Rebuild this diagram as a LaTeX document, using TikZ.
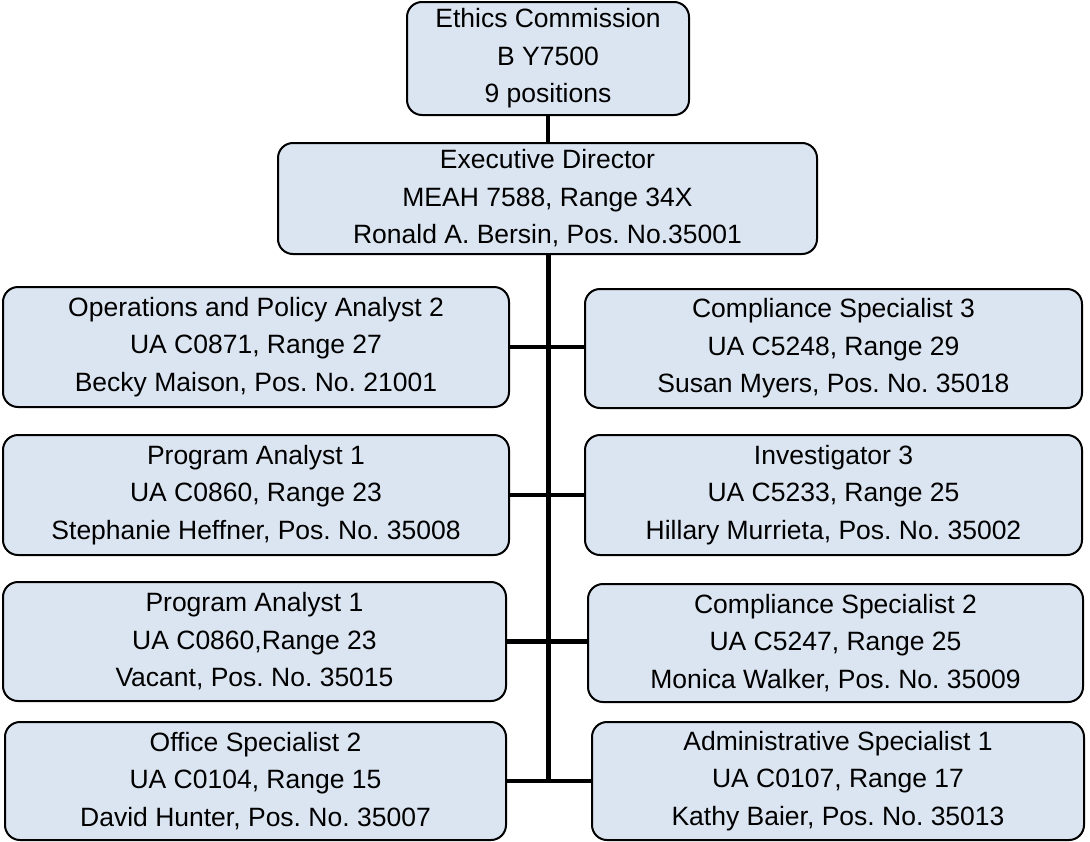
\documentclass[tikz,border=0pt]{standalone}
\usepackage{fontspec}
\setmainfont{Liberation Sans}
\definecolor{boxfill}{RGB}{219,229,241}
\frenchspacing
\begin{document}
\begin{tikzpicture}[x=1pt,y=-1pt,
  orgbox/.style={draw=black, line width=2pt, fill=boxfill, rounded corners=15pt,
    inner sep=0pt, align=center, font=\fontsize{26.5}{37.5}\selectfont},
  conn/.style={draw=black, line width=4.5pt},
  spineline/.style={draw=black, line width=5pt}]
\useasboundingbox (0,0) rectangle (1090,841);
\node[orgbox, minimum width=282pt, minimum height=113pt] (ec) at (548,58.5)
  {Ethics Commission\\B Y7500\\9 positions};
\node[orgbox, minimum width=539pt, minimum height=111pt] (ed) at (547.5,198.5)
  {Executive Director\\MEAH 7588, Range 34X\\Ronald A. Bersin, Pos. No.35001};
% left column
\node[orgbox, minimum width=506pt, minimum height=120pt] (l1) at (256,347)
  {Operations and Policy Analyst 2\\UA C0871, Range 27\\Becky Maison, Pos. No. 21001};
\node[orgbox, minimum width=506pt, minimum height=120pt] (l2) at (256,495)
  {Program Analyst 1\\UA C0860, Range 23\\Stephanie Heffner, Pos. No. 35008};
\node[orgbox, minimum width=503pt, minimum height=119pt] (l3) at (254.5,641.5)
  {Program Analyst 1\\UA C0860,Range 23\\Vacant, Pos. No. 35015};
\node[orgbox, minimum width=501pt, minimum height=118pt] (l4) at (255.5,781)
  {Office Specialist 2\\UA C0104, Range 15\\David Hunter, Pos. No. 35007};
% right column
\node[orgbox, minimum width=497pt, minimum height=119pt] (r1) at (833.5,348.5)
  {Compliance Specialist 3\\UA C5248, Range 29\\Susan Myers, Pos. No. 35018};
\node[orgbox, minimum width=497pt, minimum height=120pt] (r2) at (833.5,495)
  {Investigator 3\\UA C5233, Range 25\\Hillary Murrieta, Pos. No. 35002};
\node[orgbox, minimum width=495pt, minimum height=118pt] (r3) at (835.5,643)
  {Compliance Specialist 2\\UA C5247, Range 25\\Monica Walker, Pos. No. 35009};
\node[orgbox, minimum width=492pt, minimum height=118pt] (r4) at (838,781)
  {Administrative Specialist 1\\UA C0107, Range 17\\Kathy Baier, Pos. No. 35013};
% connectors
\coordinate (spinebot) at (548,781);
\draw[conn] (ec.south) -- (ec.south |- ed.north);
\draw[spineline] (ed.south -| ec.south) -- (spinebot);
\draw[conn] (l1.east) -- (r1.west |- l1.east);
\draw[conn] (l2.east) -- (r2.west |- l2.east);
\draw[conn] (l3.east) -- (r3.west |- l3.east);
\draw[conn] (l4.east) -- (r4.west |- l4.east);
\end{tikzpicture}
\end{document}
